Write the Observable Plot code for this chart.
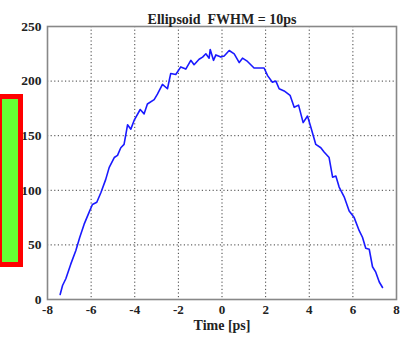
<!DOCTYPE html>
<html><head><meta charset="utf-8">
<script src="https://cdn.jsdelivr.net/npm/d3@7"></script>
<script src="https://cdn.jsdelivr.net/npm/@observablehq/plot@0.6"></script>
<style>
html,body{margin:0;padding:0;background:#fff;width:405px;height:338px;overflow:hidden}
#wrap{position:relative;width:405px;height:338px}
#box{position:absolute;left:-3px;top:94px;width:16px;height:163px;background:#66ff33;border:5px solid #ff0000}
svg{font-family:"Liberation Serif",serif}
</style></head>
<body><div id="wrap"><div id="box"></div></div>
<script>
const title = "Ellipsoid  FWHM = 10ps";
const xLabel = "Time [ps]";
const xTicks = [-8,-6,-4,-2,0,2,4,6,8];
const yTicks = [0,50,100,150,200,250];
const times = [-7.42,-7.31,-7.16,-6.93,-6.70,-6.52,-6.32,-6.09,-5.94,-5.74,-5.55,-5.33,-5.17,-4.94,-4.79,-4.64,-4.49,-4.33,-4.18,-4.03,-3.75,-3.57,-3.42,-3.11,-2.96,-2.73,-2.50,-2.35,-2.12,-1.89,-1.66,-1.43,-1.28,-1.05,-0.89,-0.74,-0.59,-0.54,-0.39,-0.28,-0.05,0.10,0.33,0.56,0.79,0.94,1.17,1.47,1.93,2.09,2.31,2.47,2.62,2.85,3.12,3.31,3.51,3.72,3.92,4.07,4.30,4.53,4.68,4.91,5.07,5.22,5.37,5.60,5.83,6.06,6.29,6.44,6.59,6.75,6.90,7.05,7.21,7.36];
const values = [4.6,12.8,19,32.6,44.8,57,69,80,87,89,98,110,121,130,132,139,142,160,156,164,174,170,179,183,188,197,193,207,206,213,211,219,215,220,222,225,221,229,219,224,222,223,228,225,217,221,218,212,212,205,199,200,193,191,187,176,178,162,168,158,142,139,135,130,112,113,103,94,81,75,63,57,47,46,30,25,16,11];
const data = times.map((t,i)=>({t, v: values[i]}));

const chart = Plot.plot({
  width: 405, height: 338,
  marginLeft: 47, marginRight: 9, marginTop: 26, marginBottom: 39,
  style: {fontFamily: '"Liberation Serif", serif', fontSize: "14px", fontWeight: "bold", color: "#222", background: "transparent", overflow: "visible"},
  x: {domain: [-8, 8]},
  y: {domain: [0, 250]},
  marks: [
    Plot.gridX(xTicks, {stroke: "#000", strokeOpacity: 0.75, strokeDasharray: "1.2,2.4"}),
    Plot.gridY(yTicks, {stroke: "#000", strokeOpacity: 0.75, strokeDasharray: "1.2,2.4"}),
    Plot.frame({stroke: "#888", strokeWidth: 1.6}),
    Plot.line(data, {x: "t", y: "v", stroke: "#1a1aff", strokeWidth: 1.6}),
    Plot.axisX({ticks: xTicks, tickFormat: d => String(d), tickSize: 0, tickPadding: 5, label: null, fontSize: 13, fontWeight: "bold"}),
    Plot.axisY({ticks: yTicks, tickFormat: d => String(d), tickSize: 0, tickPadding: 6, label: null, fontSize: 13.5, fontWeight: "bold"}),
    Plot.text([xLabel], {frameAnchor: "bottom", dy: 30, fontSize: 14, fontWeight: "bold"}),
    Plot.text([title], {frameAnchor: "top", dy: -12, fontSize: 14, fontWeight: "bold"})
  ]
});
document.getElementById("wrap").prepend(chart);
</script>
</body></html>
